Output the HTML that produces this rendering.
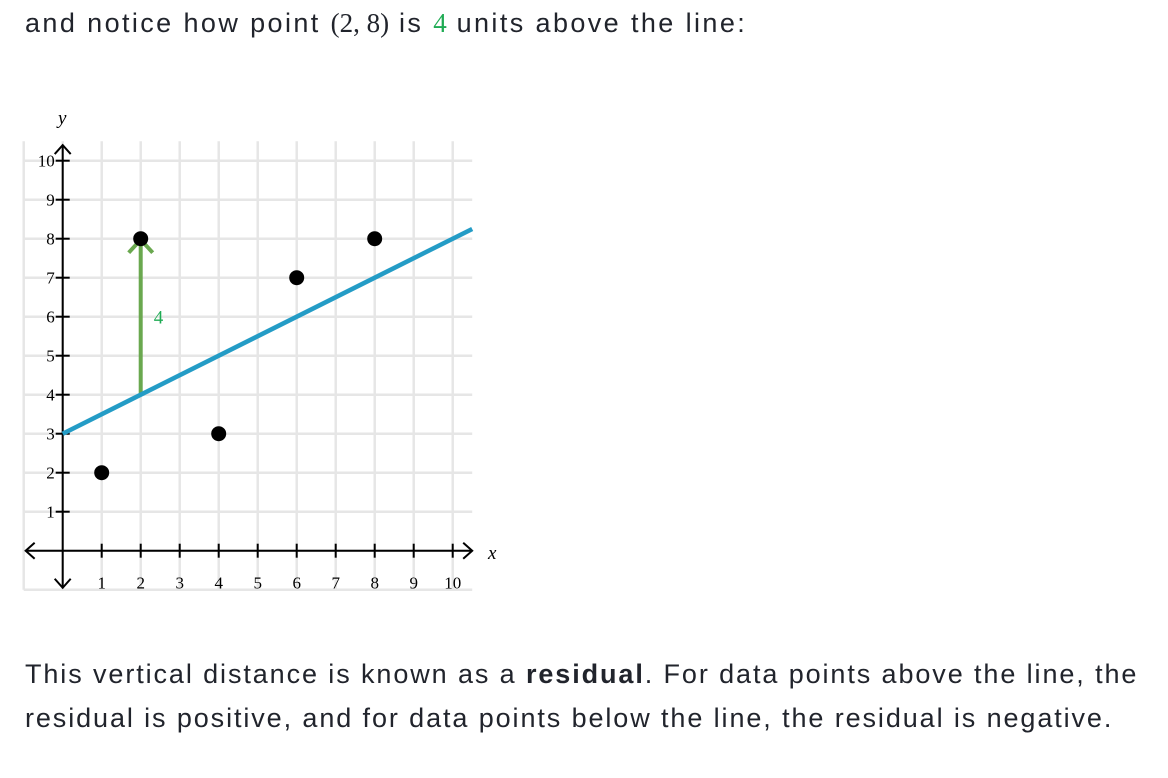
<!DOCTYPE html>
<html><head><meta charset="utf-8">
<style>
body{margin:0;width:1168px;height:778px;background:#fff;overflow:hidden;font-family:"Liberation Sans",sans-serif;color:#21242c;}
.p{position:absolute;left:25px;font-size:27px;margin:0;white-space:nowrap;letter-spacing:1.9px;}
.m{font-family:"Liberation Serif",serif;letter-spacing:0;}
</style></head><body>
<p class="p" style="top:8px;letter-spacing:2.4px">and notice how point <span class="m">(2, 8)</span> is <span class="m" style="color:#1fab54">4</span> units above the line:</p>
<svg id="chart" width="1168" height="778" style="position:absolute;left:0;top:0"></svg>
<p class="p" style="top:659px">This vertical distance is known as a <b>residual</b>. For data points above the line, the</p>
<p class="p" style="top:703px">residual is positive, and for data points below the line, the residual is negative.</p>
<script>
const pointsX=[1,2,4,6,8];
const pointsY=[2,8,3,7,8];
const lineSlope=0.5;
const lineIntercept=3;
const xTicks=[1,2,3,4,5,6,7,8,9,10];
const yTicks=[1,2,3,4,5,6,7,8,9,10];
const residualX=2;
const residualLabel='4';
const NS='http://www.w3.org/2000/svg';
const svg=document.getElementById('chart');
const sx=v=>62.7+v*39;
const sy=v=>550.7-v*39;
function mk(t,a,p){const e=document.createElementNS(NS,t);for(const k in a)e.setAttribute(k,a[k]);(p||svg).appendChild(e);return e;}
for(let i=-1;i<=10;i++){
 const g1=mk('line',{x1:sx(i),x2:sx(i),y1:sy(10.5),y2:sy(-1),stroke:'#e6e6e6','stroke-width':2.5});
 
 
 const g2=mk('line',{x1:sx(-1),x2:sx(10.5),y1:sy(i),y2:sy(i),stroke:'#e6e6e6','stroke-width':2.5});
 
 
}
const xa=mk('line',{x1:sx(-0.95),x2:sx(10.5),y1:sy(0),y2:sy(0),stroke:'#000','stroke-width':2});


const ya=mk('line',{x1:sx(0),x2:sx(0),y1:sy(10.4),y2:sy(-0.95),stroke:'#000','stroke-width':2});


const heads=[[sx(-0.95),sy(0),'M9,-8 L0,0 L9,8'],[sx(10.5),sy(0),'M-9,-8 L0,0 L-9,8'],[sx(0),sy(10.4),'M-8,9 L0,0 L8,9'],[sx(0),sy(-0.95),'M-8,-9 L0,0 L8,-9']];
heads.forEach(h=>{const e=mk('path',{d:h[2],transform:`translate(${h[0]},${h[1]})`,fill:'none',stroke:'#000','stroke-width':2});
 
 });
xTicks.forEach(v=>{
 const t=mk('line',{x1:sx(v),x2:sx(v),y1:sy(0)-7,y2:sy(0)+7,stroke:'#000','stroke-width':2});
 
 
 const l=mk('text',{x:sx(v),y:sy(0)+38,'text-anchor':'middle','font-size':17,'font-family':'Liberation Serif, serif'});
 l.textContent=v;
 
 
});
yTicks.forEach(v=>{
 const t=mk('line',{x1:sx(0)-7,x2:sx(0)+7,y1:sy(v),y2:sy(v),stroke:'#000','stroke-width':2});
 
 
 const l=mk('text',{x:sx(0)-8,y:sy(v)+6,'text-anchor':'end','font-size':17,'font-family':'Liberation Serif, serif'});
 l.textContent=v;
 
 
});
const xt=mk('text',{x:488,y:559,'font-size':19,'font-style':'italic','font-family':'Liberation Serif, serif'});xt.textContent='x';


const yt=mk('text',{x:58,y:124,'font-size':19,'font-style':'italic','font-family':'Liberation Serif, serif'});yt.textContent='y';


const ry=lineSlope*residualX+lineIntercept;
const py=pointsY[pointsX.indexOf(residualX)];
const ra=mk('line',{x1:sx(residualX),x2:sx(residualX),y1:sy(ry),y2:sy(py),stroke:'#6aa84f','stroke-width':4});


const rh=mk('path',{d:'M-12,14 L0,1 L12,14',transform:`translate(${sx(residualX)},${sy(py)})`,fill:'none',stroke:'#6aa84f','stroke-width':4});


const rl=mk('text',{x:sx(residualX)+13,y:sy((ry+py)/2)+7,'font-size':19,fill:'#1fab54','font-family':'Liberation Serif, serif'});rl.textContent=residualLabel;


const ln=mk('line',{x1:sx(0),y1:sy(lineIntercept),x2:sx(10.5),y2:sy(lineIntercept+lineSlope*10.5),stroke:'#249cc6','stroke-width':4.5});


pointsX.forEach((x,i)=>{const c=mk('circle',{cx:sx(x),cy:sy(pointsY[i]),r:7.5,fill:'#000'});
 
 });
</script>
</body></html>
